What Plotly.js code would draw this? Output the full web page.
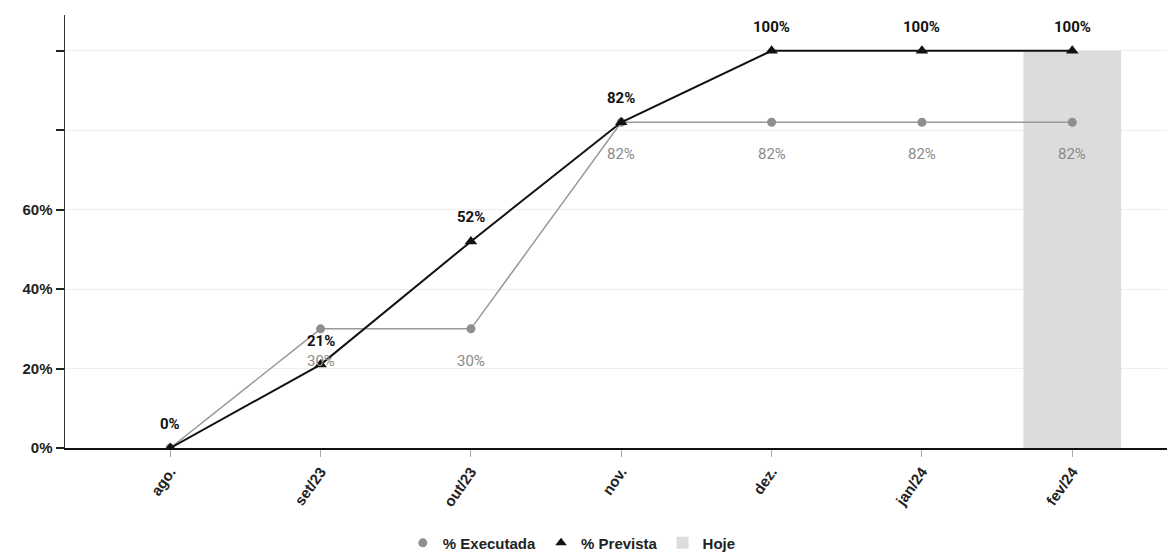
<!DOCTYPE html>
<html>
<head>
<meta charset="utf-8">
<script src="https://cdn.plot.ly/plotly-3.0.1.min.js"></script>
<style>html,body{margin:0;padding:0;background:#fff;}#chart{width:1167px;height:557px;}</style>
</head>
<body>
<div id="chart"></div>
<script>
const categories = ["ago.", "set/23", "out/23", "nov.", "dez.", "jan/24", "fev/24"];
const executada = [0, 30, 30, 82, 82, 82, 82];
const prevista = [0, 21, 52, 82, 100, 100, 100];
const hoje = [null, null, null, null, null, null, 100];
const executadaLabels = ["", "30%", "30%", "82%", "82%", "82%", "82%"];
const previstaLabels = ["0%", "21%", "52%", "82%", "100%", "100%", "100%"];
const yTickVals = [0, 20, 40, 60, 80, 100];
const yTickText = ["0%", "20%", "40%", "60%", "", ""];

const tickFont = {family: "Liberation Sans, Arial, sans-serif", size: 15, color: "#222", weight: 700};

const traces = [
  {type: "scatter", mode: "lines+markers", x: categories, y: executada, name: "% Executada", showlegend: false,
   line: {color: "#9a9a9a", width: 1.5}, marker: {symbol: "circle", size: 9, color: "#8f8f8f"}},
  {type: "scatter", mode: "lines+markers", x: categories, y: prevista, name: "% Prevista", showlegend: false,
   line: {color: "#111", width: 2}, marker: {symbol: "triangle-up", size: 11, color: "#111"}},
  {type: "scatter", mode: "markers", x: [null], y: [null], name: "% Executada", marker: {symbol: "circle", size: 9, color: "#8f8f8f"}},
  {type: "scatter", mode: "markers", x: [null], y: [null], name: "% Prevista", marker: {symbol: "triangle-up", size: 10, color: "#111"}},
  {type: "bar", x: categories, y: hoje, name: "Hoje", marker: {color: "#dcdcdc"}, width: 0.65, hoverinfo: "skip"}
];

const annotations = [];
categories.forEach((c, i) => {
  if (previstaLabels[i]) annotations.push({x: c, y: prevista[i], xref: "x", yref: "y", text: previstaLabels[i], showarrow: false, yshift: 24,
    font: {family: "Roboto, sans-serif", size: 15, color: "#111", weight: 700}});
  if (executadaLabels[i]) annotations.push({x: c, y: executada[i], xref: "x", yref: "y", text: executadaLabels[i], showarrow: false, yshift: -32,
    font: {family: "Roboto, sans-serif", size: 15, color: "#8a8a8a"}});
});

const layout = {
  width: 1167, height: 557,
  margin: {l: 65, r: 0, t: 15, b: 109},
  paper_bgcolor: "#fff", plot_bgcolor: "#fff",
  showlegend: true,
  legend: {orientation: "h", xref: "container", yref: "container", x: 0.49, xanchor: "center", y: 0.025, yanchor: "middle",
    font: {family: "Liberation Sans, Arial, sans-serif", size: 15, color: "#222", weight: 700}, traceorder: "normal"},
  xaxis: {type: "category", range: [-0.7, 6.63], showgrid: false, zeroline: false,
    showline: true, linecolor: "#111", linewidth: 2,
    ticks: "outside", ticklen: 7, tickcolor: "#aaa", tickwidth: 1,
    tickangle: -55, tickfont: tickFont, fixedrange: true},
  yaxis: {range: [0, 109], tickvals: yTickVals, ticktext: yTickText, showgrid: true, gridcolor: "#eeeeee", gridwidth: 1,
    zeroline: false, showline: true, linecolor: "#333", linewidth: 1.5,
    ticks: "outside", ticklen: 8, tickcolor: "#222", tickwidth: 2, tickfont: tickFont, fixedrange: true},
  annotations: annotations,
  bargap: 0.35
};

Plotly.newPlot("chart", traces, layout, {displayModeBar: false, staticPlot: true});
</script>
</body>
</html>
